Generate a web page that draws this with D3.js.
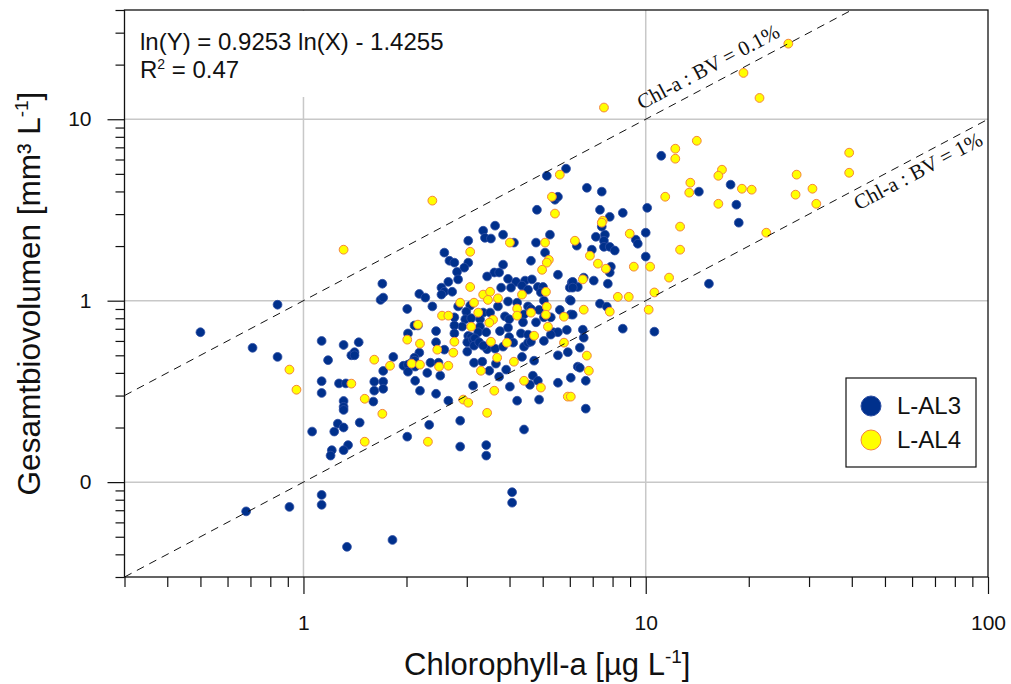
<!DOCTYPE html>
<html>
<head>
<meta charset="utf-8">
<script src="https://cdn.jsdelivr.net/npm/d3@7.9.0/dist/d3.min.js"></script>
<style>
  body { margin: 0; background: #fff; }
  svg { display: block; font-family: 'Liberation Sans', Arial, sans-serif; }
</style>
</head>
<body>
<svg id="chart" width="1011" height="684"></svg>
<script>
// L-AL3 samples: chlorophyll-a [µg/L] and biovolume [mm³/L]
const al3Chl = [0.84, 0.50, 0.71, 0.84, 1.13, 1.31, 1.38, 1.18, 1.13, 1.27, 1.33, 1.13, 1.31, 1.31, 1.31, 1.26, 1.31, 1.06, 1.23, 1.35,
  1.21, 1.20, 1.31, 1.13, 1.13, 0.91, 0.68, 1.34, 1.82, 4.07, 4.07, 3.42, 3.42, 2.87, 5.43, 4.81, 3.63, 3.35, 3.83, 3.39,
  3.53, 3.03, 4.12, 4.78, 5.25, 6.29, 2.58, 5.08, 4.62, 3.83, 2.67, 2.76, 3.03, 2.95, 2.81, 5.54, 3.61, 3.73, 3.44, 2.65,
  2.83, 3.96, 4.18, 4.44, 4.65, 1.70, 2.53, 2.58, 2.72, 3.78, 4.04, 4.35, 4.53, 4.84, 5.01, 6.00, 6.08, 6.33, 2.18, 2.27,
  2.53, 1.68, 1.71, 2.01, 2.38, 2.83, 3.07, 4.94, 5.04, 6.00, 3.35, 3.51, 3.70, 3.96, 4.21, 4.53, 4.62, 4.88, 2.76, 2.99,
  4.41, 5.61, 6.04, 2.97, 3.09, 3.28, 3.88, 3.99, 2.91, 2.76, 2.16, 2.11, 3.28, 3.96, 3.75, 4.38, 4.78, 5.04, 5.28, 5.36,
  5.54, 5.88, 2.76, 2.44, 2.02, 3.03, 3.09, 3.24, 3.42, 3.99, 4.32, 4.53, 5.28, 1.45, 1.41, 1.41, 2.44, 3.01, 3.13, 3.17,
  3.44, 3.15, 3.26, 3.35, 3.63, 3.83, 4.10, 4.41, 4.53, 4.62, 5.04, 5.54, 5.92, 6.33, 2.18, 2.11, 2.58, 3.01, 1.83, 1.71,
  1.96, 2.02, 2.07, 2.11, 2.12, 2.02, 2.35, 2.48, 3.15, 3.33, 3.65, 4.35, 4.72, 2.30, 2.51, 3.49, 3.73, 3.91, 4.68, 4.84,
  4.59, 5.54, 6.04, 1.61, 1.71, 1.61, 1.71, 2.12, 2.19, 2.44, 3.13, 4.01, 2.65, 4.21, 4.88, 1.60, 1.46, 2.33, 2.87, 4.41,
  2.01, 5.85, 5.14, 6.73, 7.44, 5.54, 7.35, 7.85, 8.57, 10.1, 14.3, 7.15, 7.60, 7.55, 10.0, 9.35, 9.48, 7.55, 7.85, 8.12,
  7.44, 6.96, 10.0, 7.91, 7.85, 6.59, 7.05, 6.12, 6.12, 7.75, 6.04, 7.35, 7.70, 6.12, 8.57, 10.6, 6.55, 6.59, 6.42, 6.42,
  6.68, 6.68, 15.3, 11.1, 17.7, 18.4, 18.7];
const al3Vol = [0.95, 0.67, 0.55, 0.49, 0.60, 0.57, 0.50, 0.47, 0.36, 0.35, 0.35, 0.31, 0.28, 0.26, 0.25, 0.21, 0.20, 0.19, 0.19, 0.16,
  0.15, 0.14, 0.15, 0.085, 0.075, 0.073, 0.069, 0.044, 0.048, 0.088, 0.077, 0.16, 0.14, 0.157, 3.60, 3.17, 2.59, 2.43, 2.31, 2.22,
  2.20, 2.14, 2.09, 2.09, 2.31, 2.01, 1.84, 1.84, 1.66, 1.58, 1.66, 1.62, 1.62, 1.52, 1.44, 1.39, 1.43, 1.43, 1.36, 1.27,
  1.31, 1.32, 1.27, 1.29, 1.31, 1.24, 1.18, 1.12, 1.12, 1.18, 1.18, 1.21, 1.15, 1.19, 1.19, 1.18, 1.26, 1.19, 1.09, 1.04,
  1.08, 1.01, 1.04, 0.90, 0.93, 0.93, 0.94, 1.11, 1.00, 1.01, 0.86, 0.86, 0.93, 0.99, 0.975, 0.93, 0.90, 0.89, 0.81, 0.87,
  0.84, 0.89, 0.84, 0.79, 0.80, 0.79, 0.82, 0.79, 0.72, 0.73, 0.73, 0.73, 0.72, 0.71, 0.68, 0.76, 0.76, 0.81, 0.81, 0.67,
  0.67, 0.69, 0.66, 0.68, 0.66, 0.64, 0.63, 0.67, 0.67, 0.63, 0.66, 0.65, 0.65, 0.59, 0.52, 0.50, 0.59, 0.59, 0.61, 0.62,
  0.54, 0.565, 0.59, 0.565, 0.544, 0.558, 0.587, 0.558, 0.587, 0.594, 0.60, 0.50, 0.52, 0.433, 0.517, 0.485, 0.537, 0.524, 0.49, 0.41,
  0.438, 0.444, 0.455, 0.467, 0.433, 0.406, 0.455, 0.455, 0.455, 0.461, 0.45, 0.49, 0.467, 0.40, 0.386, 0.411, 0.381, 0.417, 0.386, 0.362,
  0.344, 0.353, 0.376, 0.358, 0.358, 0.319, 0.327, 0.362, 0.319, 0.307, 0.34, 0.336, 0.281, 0.281, 0.285, 0.278, 0.213, 0.207, 0.218, 0.195,
  0.178, 5.34, 4.88, 4.19, 3.99, 3.74, 3.17, 2.90, 3.05, 3.25, 3.99, 2.25, 2.31, 2.14, 2.37, 2.17, 2.06, 1.98, 1.98, 1.89,
  2.56, 1.91, 1.75, 1.54, 1.43, 1.34, 1.29, 1.27, 1.18, 1.24, 1.00, 0.963, 0.927, 0.837, 0.701, 0.675, 0.692, 0.625, 0.551, 0.427,
  0.362, 0.254, 1.24, 6.29, 4.36, 3.38, 2.69];

// L-AL4 samples
const al4Chl = [0.91, 0.954, 1.38, 1.51, 2.31, 2.38, 5.43, 4.01, 5.08, 1.31, 3.07, 5.21, 5.14, 4.98, 3.07, 4.35, 5.11, 3.35, 3.51, 3.70,
  3.46, 2.87, 3.15, 4.21, 5.14, 5.11, 2.54, 2.65, 3.24, 4.62, 4.21, 5.77, 3.58, 3.49, 2.16, 3.09, 5.18, 4.72, 2.01, 2.19,
  2.76, 3.53, 3.93, 5.77, 2.46, 2.74, 3.68, 4.12, 1.61, 1.79, 2.07, 2.19, 2.49, 2.65, 3.30, 4.41, 4.94, 3.61, 2.93, 3.03,
  5.92, 1.51, 1.70, 3.44, 7.55, 5.61, 5.32, 7.49, 11.4, 13.4, 12.6, 8.98, 7.44, 6.21, 12.6, 6.87, 7.25, 7.65, 9.23, 10.3,
  11.7, 6.55, 10.6, 8.29, 8.92, 6.59, 7.85, 10.2, 6.73, 6.82, 6.04, 22.5, 26.1, 19.3, 21.5, 12.2, 12.2, 14.1, 39.3, 39.3,
  16.7, 16.3, 27.6, 13.5, 19.1, 20.4, 27.4, 30.7, 31.5, 16.3];
const al4Vol = [0.417, 0.323, 0.349, 0.167, 0.167, 3.56, 3.02, 2.09, 2.09, 1.91, 1.86, 1.68, 1.62, 1.48, 1.19, 1.08, 1.12, 1.08, 1.12, 1.03,
  1.01, 0.975, 0.975, 0.904, 0.927, 0.837, 0.827, 0.827, 0.859, 0.859, 0.827, 0.816, 0.786, 0.756, 0.738, 0.719, 0.719, 0.641, 0.61, 0.58,
  0.594, 0.594, 0.587, 0.587, 0.537, 0.517, 0.485, 0.461, 0.473, 0.438, 0.45, 0.444, 0.433, 0.438, 0.411, 0.362, 0.332, 0.319, 0.285, 0.274,
  0.296, 0.288, 0.238, 0.241, 11.6, 4.95, 3.74, 2.76, 3.74, 3.94, 2.56, 2.34, 2.69, 2.14, 1.91, 1.77, 1.60, 1.50, 1.54, 1.54,
  1.34, 1.31, 1.11, 1.05, 1.05, 0.892, 0.870, 0.892, 0.498, 0.411, 0.296, 2.37, 26.1, 18.0, 13.1, 6.88, 6.06, 7.61, 6.54, 5.07,
  5.27, 4.88, 4.95, 4.47, 4.14, 4.09, 3.84, 4.14, 3.42, 3.42];

const xMajor = [1, 10, 100];
const xTickLabels = ['1', '10', '100'];
const yMajor = [0.1, 1, 10];
const yTickLabels = ['0', '1', '10'];

// Chl-a : BV reference lines (BV = ratio * Chl)
const refRatios = [1, 0.1];
const refLabels = ['Chl-a : BV = 0.1%', 'Chl-a : BV = 1%'];

const fitText = 'ln(Y) = 0.9253 ln(X) - 1.4255';
const r2Text = ' = 0.47';

let svg = d3.select('#chart');

let plotLeft = 124.5, plotRight = 988, plotTop = 10, plotBottom = 577;

let x = d3.scaleLog().domain([0.3, 100]).range([plotLeft, plotRight]);
let y = d3.scaleLog().domain([0.03, 40]).range([plotBottom, plotTop]);

function minorTicks(domain) {
    let ticks = [];
    [0.01, 0.1, 1, 10].forEach((dec) => {
        for (let k = 2; k <= 9; k++) {
            let v = +(k * dec).toPrecision(3);
            if (v >= domain[0] - 1e-9 && v <= domain[1] + 1e-9) ticks.push(v);
        }
    });
    return ticks;
}

svg.append('defs').append('clipPath').attr('id', 'plot-clip')
    .append('rect')
    .attr('x', plotLeft).attr('y', plotTop)
    .attr('width', plotRight - plotLeft).attr('height', plotBottom - plotTop);

// grid
svg.append('g').selectAll('line').data(xMajor.filter((d) => d < 100)).join('line')
    .attr('x1', (d) => x(d)).attr('x2', (d) => x(d))
    .attr('y1', plotTop).attr('y2', plotBottom)
    .attr('stroke', '#c8c8c8').attr('stroke-width', 1.5);

svg.append('g').selectAll('line').data(yMajor).join('line')
    .attr('x1', plotLeft).attr('x2', plotRight)
    .attr('y1', (d) => y(d)).attr('y2', (d) => y(d))
    .attr('stroke', '#c8c8c8').attr('stroke-width', 1.5);

// white box behind the regression text
svg.append('rect')
    .attr('x', plotLeft + 1).attr('y', plotTop + 1)
    .attr('width', 330).attr('height', 86)
    .attr('fill', '#fff');

// points
let plot = svg.append('g').attr('clip-path', 'url(#plot-clip)');

plot.append('g').selectAll('circle').data(al3Chl).join('circle')
    .attr('cx', (d) => x(d))
    .attr('cy', (d, i) => y(al3Vol[i]))
    .attr('r', 4.4)
    .attr('fill', '#00308c')
    .attr('stroke', '#2d4ea3')
    .attr('stroke-width', 0.8);

plot.append('g').selectAll('circle').data(al4Chl).join('circle')
    .attr('cx', (d) => x(d))
    .attr('cy', (d, i) => y(al4Vol[i]))
    .attr('r', 4.4)
    .attr('fill', '#ffff00')
    .attr('stroke', '#f5843c')
    .attr('stroke-width', 1);

// reference lines
let line = d3.line().x((d) => x(d[0])).y((d) => y(d[1]));
refRatios.forEach((r) => {
    plot.append('path')
        .attr('d', line([[0.3, 0.3 * r], [100, 100 * r]]))
        .attr('fill', 'none')
        .attr('stroke', '#111')
        .attr('stroke-width', 1)
        .attr('stroke-dasharray', '8,6');
});

let angle = Math.atan2(y(1) - y(10), x(10) - x(1)) * 180 / Math.PI;
let labelAt = [10.04, 39.3];
let labelOffset = [-10, 20];
refRatios.forEach((r, i) => {
    svg.append('text')
        .attr('transform', `translate(${x(labelAt[i])},${y(labelAt[i] * r)}) rotate(${-angle})`)
        .attr('dy', labelOffset[i])
        .attr('font-family', "'Liberation Serif', 'DejaVu Serif', serif")
        .attr('font-size', 21)
        .attr('fill', '#111')
        .text(refLabels[i]);
});

// frame
svg.append('rect')
    .attr('x', plotLeft).attr('y', plotTop)
    .attr('width', plotRight - plotLeft).attr('height', plotBottom - plotTop)
    .attr('fill', 'none')
    .attr('stroke', '#111')
    .attr('stroke-width', 1.3);

// axes
function styleAxis(g) {
    g.select('.domain').remove();
    g.selectAll('line').attr('stroke', '#111').attr('stroke-width', 1.2);
    g.selectAll('text')
        .attr('font-family', "'Liberation Sans', Arial, sans-serif")
        .attr('font-size', 21)
        .attr('fill', '#111');
}

svg.append('g')
    .attr('transform', `translate(${plotLeft},0)`)
    .call(d3.axisLeft(y).tickValues(yMajor).tickSize(17).tickPadding(16)
        .tickFormat((d, i) => yTickLabels[i]))
    .call(styleAxis);

svg.append('g')
    .attr('transform', `translate(${plotLeft},0)`)
    .call(d3.axisLeft(y).tickValues(minorTicks(y.domain())).tickSize(9).tickFormat(''))
    .call(styleAxis);

svg.append('g')
    .attr('transform', `translate(0,${plotBottom})`)
    .call(d3.axisBottom(x).tickValues(xMajor).tickSize(17).tickPadding(21)
        .tickFormat((d, i) => xTickLabels[i]))
    .call(styleAxis);

svg.append('g')
    .attr('transform', `translate(0,${plotBottom})`)
    .call(d3.axisBottom(x).tickValues(minorTicks(x.domain())).tickSize(10).tickFormat(''))
    .call(styleAxis);

// axis titles
let xTitle = svg.append('text')
    .attr('x', (plotLeft + plotRight) / 2 - 9).attr('y', 675)
    .attr('text-anchor', 'middle')
    .attr('font-size', 31)
    .attr('fill', '#111');
xTitle.append('tspan').text('Chlorophyll-a [µg L');
xTitle.append('tspan').attr('font-size', 19).attr('dy', -12).text('-1');
xTitle.append('tspan').attr('dy', 12).text(']');

let yTitle = svg.append('text')
    .attr('transform', `translate(40,${(plotTop + plotBottom) / 2}) rotate(-90)`)
    .attr('text-anchor', 'middle')
    .attr('font-size', 31.5)
    .attr('fill', '#111');
yTitle.append('tspan').text('Gesamtbiovolumen [mm³ L');
yTitle.append('tspan').attr('font-size', 19).attr('dy', -12).text('-1');
yTitle.append('tspan').attr('dy', 12).text(']');

// regression text
svg.append('text')
    .attr('x', 140).attr('y', 50)
    .attr('font-size', 24)
    .attr('fill', '#111')
    .text(fitText);

let r2 = svg.append('text')
    .attr('x', 140).attr('y', 78)
    .attr('font-size', 24)
    .attr('fill', '#111');
r2.append('tspan').text('R');
r2.append('tspan').attr('font-size', 14).attr('dy', -9).text('2');
r2.append('tspan').attr('dy', 9).text(r2Text);

// legend
let legendItems = [
    { name: 'L-AL3', fill: '#00308c', stroke: '#2d4ea3' },
    { name: 'L-AL4', fill: '#ffff00', stroke: '#f5843c' }
];

let legend = svg.append('g').attr('transform', 'translate(846,378)');
legend.append('rect')
    .attr('width', 130).attr('height', 89)
    .attr('fill', '#fff')
    .attr('stroke', '#111')
    .attr('stroke-width', 1.2);

legendItems.forEach((d, i) => {
    legend.append('circle')
        .attr('cx', 25).attr('cy', 28 + i * 34)
        .attr('r', 10)
        .attr('fill', d.fill)
        .attr('stroke', d.stroke)
        .attr('stroke-width', 1);
    legend.append('text')
        .attr('x', 51).attr('y', 36 + i * 34)
        .attr('font-size', 24)
        .attr('fill', '#111')
        .text(d.name);
});
</script>
</body>
</html>
